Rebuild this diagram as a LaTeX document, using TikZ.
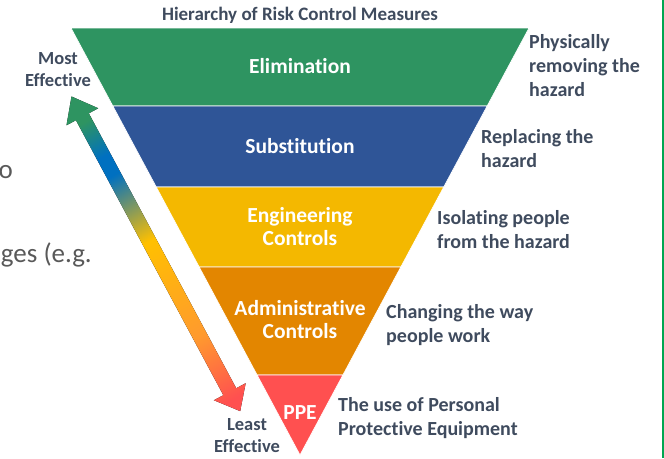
\documentclass[tikz,border=0pt]{standalone}
\usepackage{fontspec}
\setmainfont{Carlito}[Ligatures=NoCommon]
\usetikzlibrary{calc}

\definecolor{elimgreen}{HTML}{2E9461}
\definecolor{subsblue}{HTML}{2F5597}
\definecolor{enggold}{HTML}{F4B800}
\definecolor{adminorange}{HTML}{E38600}
\definecolor{ppered}{HTML}{FF5050}
\definecolor{slate}{HTML}{3F4B5E}
\definecolor{slidegray}{HTML}{595959}
\definecolor{edgegreen}{HTML}{00A651}
\definecolor{arrowblue}{HTML}{0070C0}
\definecolor{arrowyellow}{HTML}{FFC000}
\definecolor{arroworange}{HTML}{FF9A2E}

% stops sit in 25bp..75bp, the part pgf stretches over the path
\pgfdeclarehorizontalshading{effective}{100bp}{color(0bp)=(elimgreen); color(29bp)=(elimgreen); color(34.5bp)=(arrowblue); color(37.5bp)=(arrowblue); color(48bp)=(arrowyellow); color(54bp)=(arrowyellow!60!arroworange); color(63bp)=(arroworange); color(73bp)=(ppered); color(100bp)=(ppered)}

\begin{document}
\begin{tikzpicture}[x=1pt,y=-1pt,
  layer/.style={draw=white,line width=0.7pt},
  tiertext/.style={text=white,align=center,font=\bfseries\fontsize{21.5}{23}\selectfont},
  desctext/.style={text=slate,align=left,anchor=west,inner sep=0pt,font=\bfseries\fontsize{20}{24}\selectfont},
  endtext/.style={text=slate,align=center,inner sep=0pt,font=\bfseries\fontsize{18.5}{22}\selectfont},
  fragtext/.style={text=slidegray,anchor=east,inner sep=0pt,font=\fontsize{27}{30}\selectfont}]
\useasboundingbox (0,0) rectangle (664,458);

\coordinate (topleft) at (71,28);
\coordinate (topright) at (529,28);
\coordinate (apex) at (300,455);

% layers, top to bottom
\fill[elimgreen,layer] (topleft) -- (topright) -- ($(topright)!0.1827!(apex)$) -- ($(topleft)!0.1827!(apex)$) -- cycle;
\fill[subsblue,layer] ($(topleft)!0.1827!(apex)$) -- ($(topright)!0.1827!(apex)$) -- ($(topright)!0.3724!(apex)$) -- ($(topleft)!0.3724!(apex)$) -- cycle;
\fill[enggold,layer] ($(topleft)!0.3724!(apex)$) -- ($(topright)!0.3724!(apex)$) -- ($(topright)!0.5597!(apex)$) -- ($(topleft)!0.5597!(apex)$) -- cycle;
\fill[adminorange,layer] ($(topleft)!0.5597!(apex)$) -- ($(topright)!0.5597!(apex)$) -- ($(topright)!0.8126!(apex)$) -- ($(topleft)!0.8126!(apex)$) -- cycle;
\fill[ppered,layer] ($(topleft)!0.8126!(apex)$) -- ($(topright)!0.8126!(apex)$) -- (apex) -- cycle;

\node[tiertext] (elim) at (300,66) {Elimination};
\node[tiertext] (subs) at (300,146) {Substitution};
\node[tiertext] (eng) at (300,227) {Engineering\\Controls};
\node[tiertext] (admin) at (300,320) {Administrative\\Controls};
\node[tiertext] (ppe) at (300,413) {PPE};

\node[text=slate,font=\bfseries\fontsize{19}{20}\selectfont] (title) at (300,15) {Hierarchy of Risk Control Measures};

\node[desctext] (elimdesc) at (529,66) {Physically\\removing the\\hazard};
\node[desctext] (subsdesc) at (481,149) {Replacing the\\hazard};
\node[desctext] (engdesc) at (437,230) {Isolating people\\from the hazard};
\node[desctext] (admindesc) at (386,325) {Changing the way\\people work};
\node[desctext] (ppedesc) at (338,418) {The use of Personal\\Protective Equipment};

\node[endtext] (most) at (58,70) {Most\\Effective};
\node[endtext] (least) at (247,436) {Least\\Effective};

% effectiveness arrow
\begin{scope}[transform canvas={shift={(71.5,96.5)},rotate=-61.8}]
\fill[shading=effective] (0,0) -- (23,18) -- (23,7.3) -- (335,7.3) -- (335,18) -- (357,0) -- (335,-18) -- (335,-7.3) -- (23,-7.3) -- (23,-18) -- cycle;
\end{scope}

% cut-off slide text
\node[fragtext] (fraga) at (13,172) {o};
\node[fragtext] (fragb) at (92,255) {ges (e.g.};

\draw[edgegreen,line width=1.6pt] (663,0) -- (663,458);
\end{tikzpicture}
\end{document}
